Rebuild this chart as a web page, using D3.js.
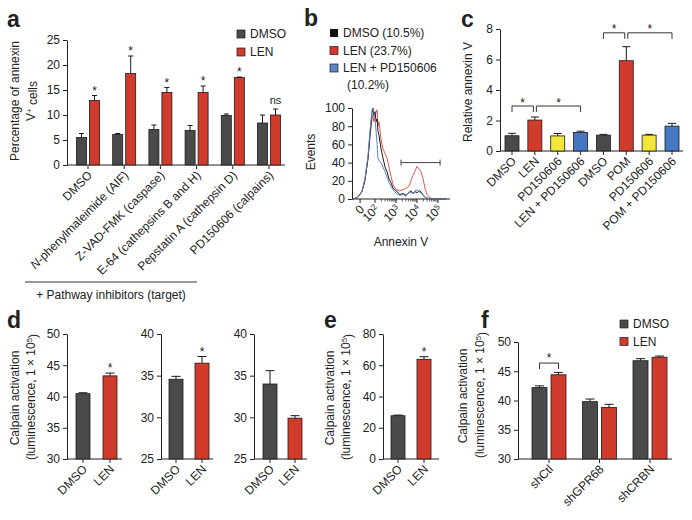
<!DOCTYPE html>
<html>
<head>
<meta charset="utf-8">
<script src="https://cdn.jsdelivr.net/npm/d3@7"></script>
<style>
body { margin: 0; background: #fff; }
text { font-family: "Liberation Sans", Arial, Helvetica, sans-serif; fill: #222; }
</style>
</head>
<body>
<div id="chart"></div>
<script>
var width = 692,
    height = 520;

// ---- panel a: annexin V+ cells with pathway inhibitors
var aGroups = ["DMSO", "N-phenylmaleimide (AIF)", "Z-VAD-FMK (caspase)", "E-64 (cathepsins B and H)",
               "Pepstatin A (cathepsin D)", "PD150606 (calpains)"];
var aDmso = [5.5, 6.1, 7.1, 6.9, 9.9, 8.4];
var aDmsoErr = [0.8, 0.2, 0.9, 1.0, 0.3, 1.6];
var aLen = [12.9, 18.3, 14.5, 14.5, 17.5, 10.0];
var aLenErr = [1.0, 3.5, 1.0, 1.3, 0.1, 1.2];
var aMarks = ["*", "*", "*", "*", "*", "ns"];
var aTicks = [0, 5, 10, 15, 20, 25];

// ---- panel b: annexin V histogram (x in log10 units)
var bLog = [0.95, 1.19, 1.38, 1.52, 1.67, 1.76, 1.86, 1.90, 1.95, 2.00, 2.05, 2.10, 2.14, 2.19, 2.29,
            2.38, 2.48, 2.57, 2.67, 2.76, 2.86, 2.95, 3.05, 3.19, 3.33, 3.48, 3.62, 3.71, 3.81, 3.90,
            4.00, 4.10, 4.19, 4.29, 4.38, 4.48, 4.62, 4.86, 5.10, 5.40];
var bDmso = [0, 2, 8, 20, 45, 70, 95, 100, 92, 96, 85, 88, 75, 70, 55,
             45, 35, 30, 22, 18, 12, 10, 8, 5, 6, 4, 7, 9, 6, 8,
             7, 9, 8, 4, 2, 1, 0, 0, 0, 0];
var bLen = [0, 2, 9, 22, 45, 68, 88, 92, 85, 90, 95, 98, 80, 85, 65,
            55, 50, 45, 35, 25, 16, 12, 10, 9, 10, 12, 14, 20, 26, 30,
            36, 33, 30, 22, 12, 5, 1, 0, 0, 0];
var bLenPd = [0, 2, 8, 22, 48, 75, 98, 100, 95, 88, 75, 60, 45, 42, 40,
              35, 30, 24, 18, 14, 10, 8, 5, 4, 5, 3, 8, 7, 6, 9,
              10, 8, 7, 5, 2, 1, 0, 0, 0, 0];
var bSeries = ["DMSO (10.5%)", "LEN (23.7%)", "LEN + PD150606"];
var bGate = [3.24, 5.1];
var bGateLevel = 40;
var bTicks = [0, 20, 40, 60, 80, 100];

// ---- panel c: relative annexin V
var cLabels = ["DMSO", "LEN", "PD150606", "LEN + PD150606", "DMSO", "POM", "PD150606", "POM + PD150606"];
var cKind = ["DMSO", "IMiD", "PD", "IMiD+PD", "DMSO", "IMiD", "PD", "IMiD+PD"];
var cValues = [1.0, 2.03, 0.99, 1.22, 1.04, 5.92, 1.04, 1.63];
var cErr = [0.16, 0.2, 0.16, 0.08, 0.05, 0.92, 0.05, 0.18];
var cBrackets = [[0, 1, 2.95], [1, 3, 2.95], [4, 5, 7.75], [5, 7, 7.75]];
var cTicks = [0, 2, 4, 6, 8];

// ---- panel d: calpain activation, three experiments
var dDmso = [40.45, 34.57, 34.0];
var dDmsoErr = [0.15, 0.35, 1.6];
var dLen = [43.3, 36.5, 29.9];
var dLenErr = [0.45, 0.8, 0.3];
var dStar = [true, true, false];
var dDomains = [[30, 50], [25, 40], [25, 40]];
var dTicks = [[30, 35, 40, 45, 50], [25, 30, 35, 40], [25, 30, 35, 40]];

// ---- panel e
var eValues = [27.7, 63.8];
var eErr = [0.4, 1.7];
var eTicks = [0, 20, 40, 60, 80];

// ---- panel f: knockdowns
var fGroups = ["shCtl", "shGPR68", "shCRBN"];
var fDmso = [42.2, 39.8, 46.8];
var fDmsoErr = [0.3, 0.45, 0.35];
var fLen = [44.4, 38.8, 47.4];
var fLenErr = [0.4, 0.55, 0.2];
var fTicks = [30, 35, 40, 45, 50];

var treatments = ["DMSO", "LEN"];

var ink = "#222";
var color = d3.scaleOrdinal()
    .domain(["DMSO", "LEN", "IMiD", "PD", "IMiD+PD"])
    .range(["#4a4a4a", "#d13b2b", "#d13b2b", "#f2e63a", "#4677c2"]);

var svg = d3.select("#chart").append("svg")
    .attr("width", width)
    .attr("height", height);

function yAxis(x, y, ticks) {
  var g = svg.append("g")
      .attr("transform", "translate(" + x + ",0)")
      .call(d3.axisLeft(y).tickValues(ticks).tickSize(4).tickSizeOuter(0).tickPadding(3));
  g.attr("font-size", 12);
  g.selectAll("path,line").attr("stroke", ink);
  return g;
}

function baseLine(x0, x1, y, centers) {
  svg.append("line")
      .attr("x1", x0).attr("x2", x1).attr("y1", y).attr("y2", y)
      .attr("stroke", ink);
  centers.forEach(function(c) {
    svg.append("line")
        .attr("x1", c).attr("x2", c).attr("y1", y).attr("y2", y + 4)
        .attr("stroke", ink);
  });
}

function bar(x, w, yTop, y0, fill) {
  svg.append("rect")
      .attr("x", x).attr("width", w)
      .attr("y", yTop).attr("height", y0 - yTop)
      .attr("fill", fill)
      .attr("stroke", "#1a1a1a")
      .attr("stroke-width", 0.8);
}

function errBar(cx, yTop, yErr, cap) {
  svg.append("path")
      .attr("d", "M" + cx + "," + yTop + "V" + yErr + "M" + (cx - cap / 2) + "," + yErr + "H" + (cx + cap / 2))
      .attr("fill", "none")
      .attr("stroke", "#1a1a1a")
      .attr("stroke-width", 1);
}

function mark(cx, y, txt) {
  svg.append("text")
      .attr("x", cx).attr("y", y)
      .attr("text-anchor", "middle")
      .attr("font-size", txt == "*" ? 12 : 11)
      .text(txt);
}

function rotLabel(cx, y, name) {
  var t = svg.append("text")
      .attr("transform", "translate(" + (cx + 2) + "," + (y + 8) + ") rotate(-45)")
      .attr("text-anchor", "end")
      .attr("dy", "0.35em")
      .attr("font-size", 12);
  if (name.indexOf("N-") === 0) {
    t.append("tspan").attr("font-style", "italic").text("N");
    t.append("tspan").text(name.slice(1));
  } else {
    t.text(name);
  }
  return t;
}

function yTitle(cx, cy, txt, sup, tail) {
  var t = svg.append("text")
      .attr("transform", "translate(" + cx + "," + cy + ") rotate(-90)")
      .attr("text-anchor", "middle")
      .attr("dy", "0.35em")
      .attr("font-size", 12);
  t.append("tspan").text(txt);
  if (sup) {
    t.append("tspan").attr("dy", "-0.45em").attr("font-size", 8).text(sup);
    t.append("tspan").attr("dy", "0.45em").text(tail);
  }
}

function panelLetter(x, y, l) {
  svg.append("text")
      .attr("x", x).attr("y", y)
      .attr("font-size", 23)
      .attr("font-weight", "bold")
      .attr("fill", "#111")
      .text(l);
}

function legend(x, y, labels, fills, gap) {
  labels.forEach(function(l, i) {
    svg.append("rect")
        .attr("x", x).attr("y", y + i * gap - 8)
        .attr("width", 8).attr("height", 8)
        .attr("fill", fills[i])
        .attr("stroke", fills[i] == "#111" ? "none" : "#1a1a1a")
        .attr("stroke-width", 0.7);
    svg.append("text")
        .attr("x", x + 13).attr("y", y + i * gap)
        .attr("font-size", 12)
        .text(l);
  });
}

// ================= panel a
panelLetter(7, 27, "a");
var ay = d3.scaleLinear().domain([0, 25]).range([165, 40]);
var ax = d3.scalePoint().domain(aGroups).range([88, 269]);
yAxis(67, ay, aTicks);
baseLine(67, 285, 165, aGroups.map(ax));
aGroups.forEach(function(g, i) {
  var c = ax(g);
  bar(c - 11.5, 10, ay(aDmso[i]), ay(0), color("DMSO"));
  errBar(c - 6.5, ay(aDmso[i]), ay(aDmso[i] + aDmsoErr[i]), 5);
  bar(c + 1.5, 10, ay(aLen[i]), ay(0), color("LEN"));
  errBar(c + 6.5, ay(aLen[i]), ay(aLen[i] + aLenErr[i]), 5);
  mark(c + 6.5, ay(aLen[i] + aLenErr[i]) - (aMarks[i] == "*" ? 1 : 5), aMarks[i]);
  rotLabel(c, 165, g);
});
yTitle(15, 101, "Percentage of annexin");
yTitle(31, 101, "V", "+", " cells");
legend(237, 38, treatments, [color("DMSO"), color("LEN")], 18);
svg.append("line")
    .attr("x1", 25).attr("x2", 197).attr("y1", 282).attr("y2", 282)
    .attr("stroke", "#333");
svg.append("text")
    .attr("x", 111).attr("y", 299)
    .attr("text-anchor", "middle")
    .attr("font-size", 12)
    .text("+ Pathway inhibitors (target)");

// ================= panel b
panelLetter(304, 26, "b");
var by = d3.scaleLinear().domain([0, 100]).range([199, 108]);
var bx = d3.scaleLinear().domain([2, 5]).range([375, 438]);
var bZero = 1.29;
yAxis(352, by, bTicks);
svg.append("line")
    .attr("x1", 352).attr("x2", 450).attr("y1", 199).attr("y2", 199)
    .attr("stroke", ink);
var bMajor = [bZero, 2, 3, 4, 5];
bMajor.forEach(function(v) {
  svg.append("line")
      .attr("x1", bx(v)).attr("x2", bx(v)).attr("y1", 199).attr("y2", 203)
      .attr("stroke", ink);
});
[2, 3, 4].forEach(function(dec) {
  d3.range(2, 10).forEach(function(k) {
    var xv = bx(dec + Math.log10(k));
    svg.append("line")
        .attr("x1", xv).attr("x2", xv).attr("y1", 199).attr("y2", 201.5)
        .attr("stroke", ink).attr("stroke-width", 0.7);
  });
});
bMajor.forEach(function(v, i) {
  var t = svg.append("text")
      .attr("transform", "translate(" + (bx(v) + 2) + ",207) rotate(-45)")
      .attr("text-anchor", "end")
      .attr("dy", "0.35em")
      .attr("font-size", 12);
  if (i === 0) {
    t.text("0");
  } else {
    t.append("tspan").text("10");
    t.append("tspan").attr("dy", "-0.45em").attr("font-size", 8).text(String(v));
  }
});
var bLine = d3.line()
    .x(function(d) { return bx(d[0]); })
    .y(function(d) { return by(d[1]); });
[[bLen, "#e05a4c"], [bDmso, "#1a1a1a"], [bLenPd, "#5a86c9"]].forEach(function(s) {
  svg.append("path")
      .datum(bLog.map(function(v, i) { return [v, s[0][i]]; }))
      .attr("d", bLine)
      .attr("fill", "none")
      .attr("stroke", s[1])
      .attr("stroke-width", 1);
});
svg.append("path")
    .attr("d", "M" + bx(bGate[0]) + "," + (by(bGateLevel) - 3) + "v6M" + bx(bGate[0]) + "," + by(bGateLevel) +
          "H" + bx(bGate[1]) + "M" + bx(bGate[1]) + "," + (by(bGateLevel) - 3) + "v6")
    .attr("fill", "none")
    .attr("stroke", "#444");
yTitle(311, 152, "Events");
svg.append("text")
    .attr("x", 401).attr("y", 246)
    .attr("text-anchor", "middle")
    .attr("font-size", 12)
    .text("Annexin V");
legend(330, 37, bSeries, ["#111", "#d9342b", "#5a86c9"], 17.5);
svg.append("text")
    .attr("x", 347).attr("y", 89)
    .attr("font-size", 12)
    .text("(10.2%)");

// ================= panel c
panelLetter(461, 27, "c");
var cy = d3.scaleLinear().domain([0, 8]).range([151, 29]);
var cx = d3.scalePoint().domain(d3.range(cLabels.length)).range([512, 672]);
yAxis(500, cy, cTicks);
baseLine(500, 683, 151, cLabels.map(function(l, i) { return cx(i); }));
cLabels.forEach(function(l, i) {
  var c = cx(i);
  bar(c - 7, 14, cy(cValues[i]), cy(0), color(cKind[i]));
  errBar(c, cy(cValues[i]), cy(cValues[i] + cErr[i]), 8);
  rotLabel(c, 151, l);
});
cBrackets.forEach(function(b) {
  var x1 = cx(b[0]), x2 = cx(b[1]), yb = cy(b[2]);
  if (b[1] == 1 || b[1] == 5) x2 -= 1.5;
  if (b[0] == 1 || b[0] == 5) x1 += 1.5;
  svg.append("path")
      .attr("d", "M" + x1 + "," + (yb + 6) + "V" + yb + "H" + x2 + "V" + (yb + 6))
      .attr("fill", "none")
      .attr("stroke", "#333");
  mark((x1 + x2) / 2, yb + 0.5, "*");
});
yTitle(468, 92, "Relative annexin V");

// ================= panel d
panelLetter(7, 328, "d");
var dAxisX = [67, 161, 254];
var dRight = [122, 213, 307];
var dCenters = [[83, 110], [176, 202], [270, 295]];
dDomains.forEach(function(dom, k) {
  var y = d3.scaleLinear().domain(dom).range([459, 334]);
  var x = d3.scalePoint().domain(treatments).range(dCenters[k]);
  yAxis(dAxisX[k], y, dTicks[k]);
  baseLine(dAxisX[k], dRight[k], 459, treatments.map(x));
  bar(x("DMSO") - 7, 14, y(dDmso[k]), 459, color("DMSO"));
  errBar(x("DMSO"), y(dDmso[k]), y(dDmso[k] + dDmsoErr[k]), 9);
  bar(x("LEN") - 7, 14, y(dLen[k]), 459, color("LEN"));
  errBar(x("LEN"), y(dLen[k]), y(dLen[k] + dLenErr[k]), 9);
  if (dStar[k]) mark(x("LEN"), y(dLen[k] + dLenErr[k]) - 1, "*");
  treatments.forEach(function(t) { rotLabel(x(t), 459, t); });
});
yTitle(15, 398, "Calpain activation");
yTitle(31, 397, "(luminescence, 1 \u00d7 10", "5", ")");

// ================= panel e
panelLetter(324, 328, "e");
var ey = d3.scaleLinear().domain([0, 80]).range([459, 334]);
var ex = d3.scalePoint().domain(treatments).range([398, 424]);
yAxis(383, ey, eTicks);
baseLine(383, 439, 459, treatments.map(ex));
treatments.forEach(function(t, i) {
  bar(ex(t) - 7, 14, ey(eValues[i]), 459, color(t));
  errBar(ex(t), ey(eValues[i]), ey(eValues[i] + eErr[i]), 9);
  rotLabel(ex(t), 459, t);
});
mark(ex("LEN"), ey(eValues[1] + eErr[1]) - 1, "*");
yTitle(330, 398, "Calpain activation");
yTitle(346, 397, "(luminescence, 1 \u00d7 10", "5", ")");

// ================= panel f
panelLetter(481, 328, "f");
var fy = d3.scaleLinear().domain([30, 50]).range([459, 342]);
var fx = d3.scalePoint().domain(fGroups).range([549, 650]);
yAxis(518, fy, fTicks);
baseLine(518, 672, 459, fGroups.map(fx));
fGroups.forEach(function(g, i) {
  var c = fx(g);
  bar(c - 17, 15, fy(fDmso[i]), 459, color("DMSO"));
  errBar(c - 9.5, fy(fDmso[i]), fy(fDmso[i] + fDmsoErr[i]), 9);
  bar(c + 2, 15, fy(fLen[i]), 459, color("LEN"));
  errBar(c + 9.5, fy(fLen[i]), fy(fLen[i] + fLenErr[i]), 9);
  rotLabel(c, 459, g);
});
var fb1 = fx("shCtl") - 9.5, fb2 = fx("shCtl") + 9.5, fby = fy(46.4);
svg.append("path")
    .attr("d", "M" + fb1 + "," + (fby + 6) + "V" + fby + "H" + fb2 + "V" + (fby + 6))
    .attr("fill", "none")
    .attr("stroke", "#333");
mark((fb1 + fb2) / 2, fby - 1, "*");
yTitle(463, 396, "Calpain activation");
yTitle(480, 395, "(luminescence, 1 \u00d7 10", "5", ")");
legend(620, 328, treatments, [color("DMSO"), color("LEN")], 17.5);
</script>
</body>
</html>
